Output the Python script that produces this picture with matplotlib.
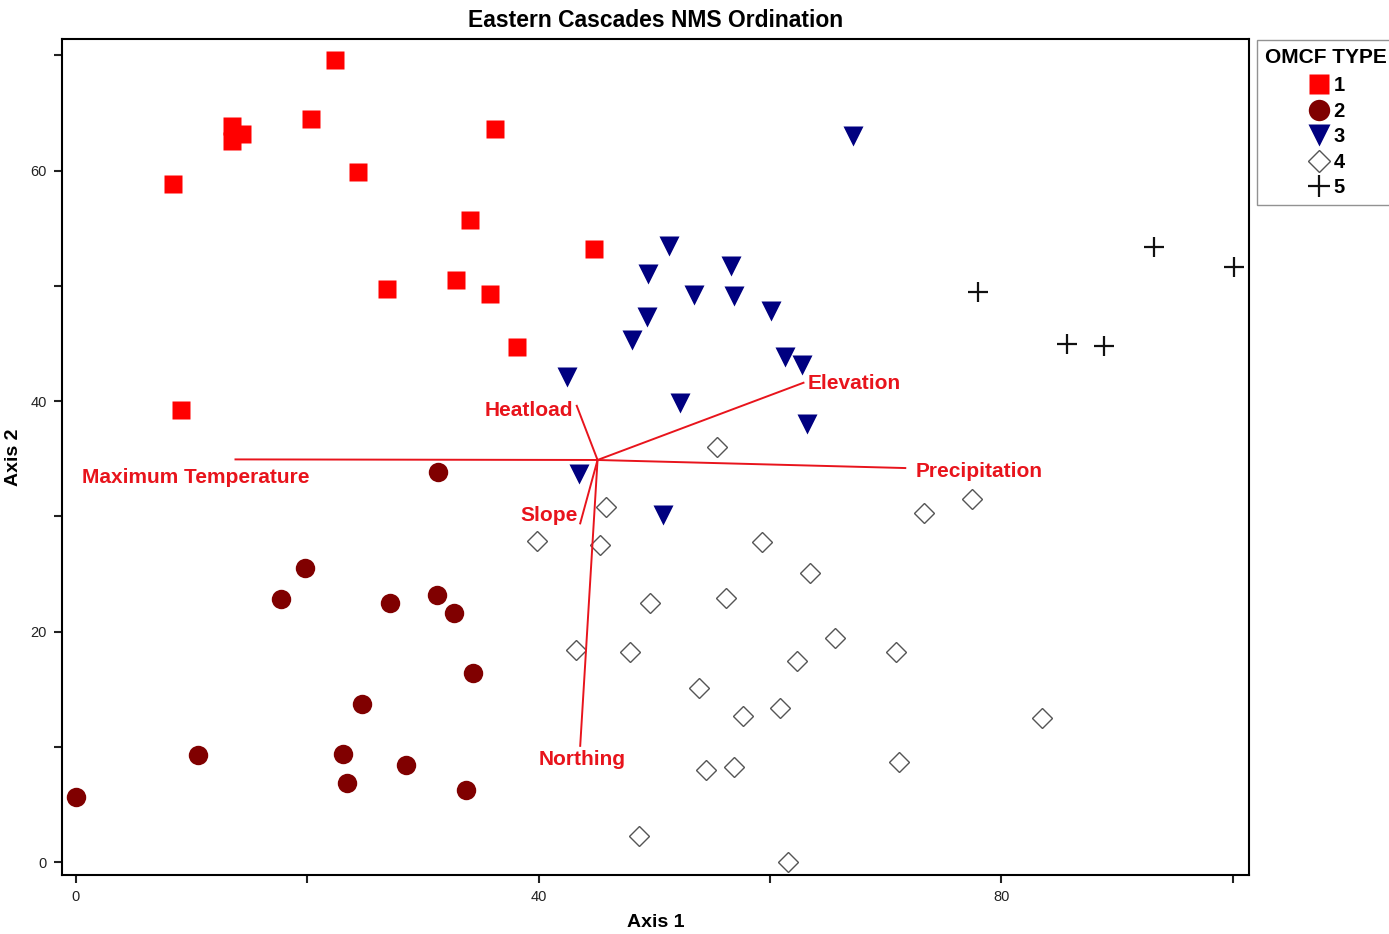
import matplotlib.pyplot as plt

plt.rcParams["font.family"] = ["Liberation Sans", "DejaVu Sans"]

# OMCF type groups (Axis 1, Axis 2 scores)
type1_x = [22.4, 13.5, 13.5, 14.4, 20.3, 36.2, 8.4, 24.4, 34.1, 44.8, 26.9, 32.9, 35.8, 38.1, 9.1]
type1_y = [69.6, 63.9, 62.6, 63.2, 64.5, 63.6, 58.8, 59.9, 55.7, 53.2, 49.7, 50.5, 49.3, 44.7, 39.2]

type2_x = [31.3, 19.8, 17.7, 27.2, 31.2, 32.7, 34.3, 24.7, 10.6, 23.1, 23.4, 28.5, 33.7, 0.0]
type2_y = [33.9, 25.5, 22.8, 22.5, 23.2, 21.6, 16.4, 13.7, 9.3, 9.4, 6.9, 8.4, 6.3, 5.7]

type3_x = [67.2, 51.3, 49.5, 56.6, 53.4, 56.9, 60.1, 49.4, 48.1, 61.3, 62.8, 42.5, 52.2, 63.2, 43.5, 50.8]
type3_y = [63.0, 53.5, 51.0, 51.7, 49.2, 49.1, 47.8, 47.3, 45.3, 43.8, 43.1, 42.1, 39.8, 38.0, 33.7, 30.1]

type4_x = [55.4, 45.8, 77.5, 73.3, 39.9, 45.3, 59.3, 63.5, 49.6, 56.2, 65.6, 43.2, 47.9, 70.9,
           62.3, 53.9, 57.7, 60.9, 83.5, 54.5, 56.9, 71.2, 48.7, 61.6]
type4_y = [36.0, 30.8, 31.5, 30.3, 27.9, 27.5, 27.8, 25.1, 22.5, 22.9, 19.5, 18.4, 18.2, 18.2,
           17.5, 15.1, 12.7, 13.4, 12.5, 8.0, 8.3, 8.7, 2.3, 0.0]

type5_x = [93.2, 100.1, 78.0, 85.7, 88.9]
type5_y = [53.4, 51.6, 49.5, 45.0, 44.8]

# environmental vectors (origin and tips)
origin = (45.1, 34.9)
vec_names = ["Maximum Temperature", "Precipitation", "Elevation", "Heatload", "Slope", "Northing"]
vec_x = [13.8, 71.7, 62.9, 43.3, 43.6, 43.6]
vec_y = [34.95, 34.2, 41.6, 39.6, 29.4, 10.1]
# label anchor points
lab_x = [10.4, 72.6, 63.3, 43.0, 43.4, 43.8]
lab_y = [33.4, 33.9, 41.5, 39.2, 30.1, 8.9]
lab_ha = ["center", "left", "left", "right", "right", "center"]

fig = plt.figure(figsize=(13.89, 9.34), dpi=100)
ax = fig.add_axes([0.0446, 0.0632, 0.8545, 0.8948])

ax.plot(type1_x, type1_y, "s", color="#ff0000", markersize=13, mec="none", label="1")
ax.plot(type2_x, type2_y, "o", color="#800000", markersize=14, mec="none", label="2")
ax.plot(type3_x, type3_y, "v", color="#000080", markersize=14, mec="none", label="3")
ax.plot(type4_x, type4_y, "D", mfc="white", mec="#555555", mew=1.0, markersize=10, label="4")
ax.plot(type5_x, type5_y, "+", color="#111111", markersize=15, mew=1.6, label="5")

for name, vx, vy, lx, ly, ha in zip(vec_names, vec_x, vec_y, lab_x, lab_y, lab_ha):
    ax.plot([origin[0], vx], [origin[1], vy], color="#e8141c", lw=1.4)
    ax.text(lx, ly, name, color="#e8141c", fontsize=15, fontweight="bold", ha=ha, va="center")

ax.set_xlim(-1.2, 101.4)
ax.set_ylim(-1.1, 71.4)
ax.set_xticks(range(0, 101, 20))
ax.set_xticklabels(["0", "", "40", "", "80", ""])
ax.set_yticks(range(0, 71, 10))
ax.set_yticklabels(["0", "", "20", "", "40", "", "60", ""])
ax.tick_params(direction="out", length=6, width=1.5, labelsize=10.5, colors="#222222", pad=5)
for s in ax.spines.values():
    s.set_linewidth(1.5)

ax.set_xlabel("Axis 1", fontsize=14, fontweight="bold", labelpad=7)
ax.set_ylabel("Axis 2", fontsize=14, fontweight="bold", labelpad=6)
ax.set_title("Eastern Cascades NMS Ordination", fontsize=16.5, fontweight="bold", pad=9)

leg = ax.legend(title="OMCF TYPE", loc="upper left", bbox_to_anchor=(0.9985, 1.0115),
                fontsize=14.5, title_fontsize=15, frameon=True, fancybox=False,
                handletextpad=0.1, labelspacing=0.32, borderpad=0.4, handlelength=1.2,
                markerscale=1.1)
leg.get_title().set_fontweight("bold")
leg.get_frame().set_edgecolor("#777777")
leg.get_frame().set_linewidth(1.0)
for t in leg.get_texts():
    t.set_fontweight("bold")
leg._legend_box.align = "center"
leg._legend_box.sep = 7

fig.savefig("out.png", dpi=100)
